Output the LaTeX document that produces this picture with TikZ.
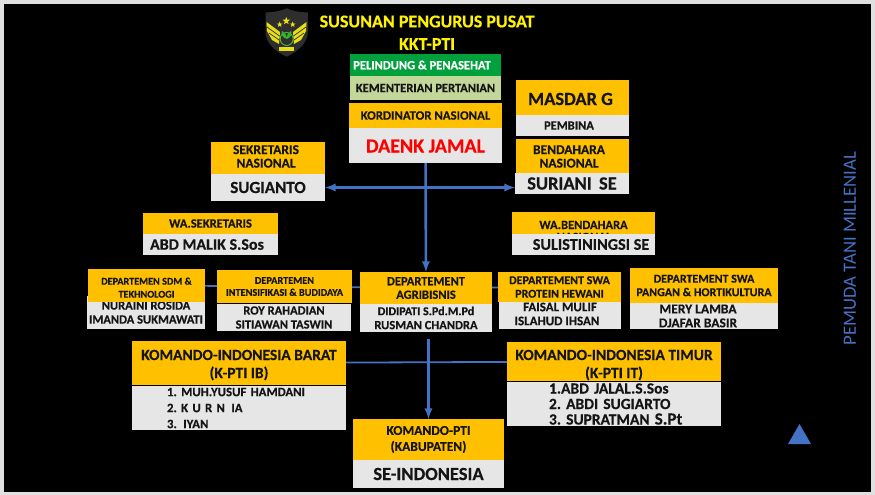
\documentclass[tikz,border=0pt]{standalone}
\usepackage{fontspec}
\setmainfont{Carlito}[BoldFeatures={FakeBold=0.4}]
\usetikzlibrary{arrows}
\usetikzlibrary{positioning}
\usetikzlibrary{shapes.geometric}
\definecolor{gold}{HTML}{FFC000}
\definecolor{pale}{HTML}{E6E6E6}
\definecolor{leaf}{HTML}{00A03C}
\definecolor{olive}{HTML}{C4D79B}
\definecolor{steel}{HTML}{4472C4}
\definecolor{ink}{HTML}{151515}
\tikzstyle{head}=[
   rectangle,
   fill=gold,
   text=ink,
   align=center,
   inner sep=0pt,
   outer sep=0pt
]
\tikzstyle{body}=[
   rectangle,
   fill=pale,
   text=ink,
   align=center,
   inner sep=0pt,
   outer sep=0pt
]
\tikzstyle{link}=[
   draw=steel,
   line width=2.6pt
]
\tikzstyle{thinlink}=[
   draw=steel,
   line width=1.6pt
]
\tikzstyle{logostar}=[
   star,
   star points=5,
   star point ratio=2.4,
   fill=yellow!90!black,
   inner sep=0pt,
   minimum size=6pt
]
\newcommand{\fsz}[2]{\fontsize{#1}{#2}\selectfont\bfseries\frenchspacing}
\newcommand{\low}[2]{\smash{\raisebox{-#1pt}{#2}}}

\begin{document}
\begin{tikzpicture}[
         x=1pt, y=-1pt,
         >=latex
      ]
      \useasboundingbox (0,0) rectangle (875,495);
      \fill[black!12] (0,0) rectangle (875,495);
      \fill[black] (3.5,4.5) rectangle (871,492);

      % logo
      \fill[black!82] (265.5,12.5) .. controls (275,12) and (281,11) .. (286.7,8.3)
         .. controls (292,11) and (298,12) .. (308,12.5)
         -- (307.7,35) .. controls (305,46) and (296,52) .. (286.7,56.7)
         .. controls (277,52) and (268,46) .. (265.7,35) -- cycle;
      \fill[yellow!90!black] (266.5,22) -- (280,32) -- (279,44) -- (272,40) -- (267,31) -- cycle;
      \fill[yellow!90!black] (306.5,22) -- (293,32) -- (294,44) -- (301,40) -- (306,31) -- cycle;
      \draw[black!82, line width=.7pt] (267,27) -- (279.5,36) (269,33) -- (279,40);
      \draw[black!82, line width=.7pt] (306,27) -- (293.5,36) (304,33) -- (294,40);
      \node (star1) [logostar] at (279.7,24.5) {};
      \node (star2) [logostar, minimum size=8pt] at (286.3,21) {};
      \node (star3) [logostar] at (292.7,24.5) {};
      \draw[leaf!70!yellow, line width=.9pt] (286.7,39) circle (6.5pt);
      \fill[leaf!80!yellow] (286.7,39) .. controls (281,37) and (281,33) .. (282,31)
         .. controls (285,32) and (286.7,35) .. (286.7,39)
         .. controls (286.7,35) and (288,32) .. (291,31)
         .. controls (292,33) and (292,37) .. (286.7,39) -- cycle;
      \fill[yellow!90!black] (279,47.5) rectangle (294,51);

      \node (title) [text=yellow, font=\fsz{18}{20}] at (427,21.5) {SUSUNAN PENGURUS PUSAT};
      \node (kkt) [text=yellow, font=\fsz{18}{20}] at (427,44) {KKT-PTI};

      \node (pelindung) [head, fill=leaf, text=white, font=\fsz{12.5}{14},
         minimum width=151pt, minimum height=22pt] at (425.5,65) {\hspace*{-7pt}PELINDUNG \& PENASEHAT};
      \node (kementerian) [body, fill=olive, font=\fsz{12.5}{14},
         minimum width=151pt, minimum height=24pt, below=0pt of pelindung] {KEMENTERIAN PERTANIAN};

      \node (kordinator) [head, font=\fsz{12.8}{14},
         minimum width=153pt, minimum height=25pt] at (425.5,115.5) {KORDINATOR NASIONAL};
      \node (daenk) [body, text=red, font=\fsz{20}{24},
         minimum width=153pt, minimum height=35pt, below=0pt of kordinator] {\low{7}{DAENK JAMAL}};

      \node (masdar) [head, font=\fsz{18.5}{20},
         minimum width=113pt, minimum height=35pt] at (572.5,97.5) {\hspace*{-4pt}\low{7.5}{MASDAR G}};
      \node (pembina) [body, font=\fsz{12.5}{13},
         minimum width=113pt, minimum height=21pt, below=0pt of masdar] {\hspace*{-7pt}PEMBINA};

      \node (bendahara) [head, font=\fsz{13.5}{13.5},
         minimum width=113pt, minimum height=34pt] at (572.5,156) {\hspace*{-7pt}\low{4.8}{BENDAHARA}\\\hspace*{-7pt}\low{4.8}{NASIONAL}};
      \node (suriani) [body, font=\fsz{18.5}{19},
         minimum width=114pt, minimum height=21pt, below=0pt of bendahara, xshift=-.5pt] {SURIANI\, SE};

      \node (sekretaris) [head, font=\fsz{13.5}{13.5},
         minimum width=114pt, minimum height=32pt] at (268,158) {\hspace*{-4pt}\low{2.8}{SEKRETARIS}\\\hspace*{-4pt}\low{2.8}{NASIONAL}};
      \node (sugianto) [body, font=\fsz{17}{19},
         minimum width=114pt, minimum height=27pt, below=0pt of sekretaris] {SUGIANTO};

      \node (wasek) [head, font=\fsz{12.5}{14},
         minimum width=135pt, minimum height=21pt] at (210.5,223.5) {WA.SEKRETARIS};
      \node (abdmalik) [body, font=\fsz{16}{17},
         minimum width=135pt, minimum height=21pt, below=0pt of wasek] {\hspace*{-7pt}ABD MALIK S.Sos};

      \node (waben) [head, font=\fsz{12.5}{13},
         minimum width=143pt, minimum height=22pt] at (583.5,223) {\low{6}{WA.BENDAHARA}};
      \node (wabenhidden) [text=ink, font=\fsz{12.5}{13}] at (584,237) {NASIONAL};
      \node (sulis) [body, font=\fsz{16.2}{17},
         minimum width=143pt, minimum height=21pt, below=0pt of waben] {\hspace*{15pt}SULISTININGSI SE};

      % departemen
      \node (nuraini) [body, font=\fsz{12.5}{14},
         minimum width=118pt, minimum height=33pt] at (146,312.5) {NURAINI ROSIDA\\IMANDA SUKMAWATI};
      \node (sdm) [head, font=\fsz{10.2}{13},
         minimum width=117pt, minimum height=33pt] at (146.5,285.5) {\low{5.6}{DEPARTEMEN SDM \&}\\\low{5.6}{TEKHNOLOGI}};

      \node (intensif) [head, font=\fsz{10.3}{12},
         minimum width=135pt, minimum height=33pt] at (284.5,286.5) {DEPARTEMEN\\INTENSIFIKASI \& BUDIDAYA};
      \node (roy) [body, font=\fsz{12.5}{14},
         minimum width=134pt, minimum height=27pt, below=1pt of intensif, xshift=-.5pt] {ROY RAHADIAN\\SITIAWAN TASWIN};

      \node (agri) [head, font=\fsz{12.5}{13.5},
         minimum width=132pt, minimum height=32pt] at (426,288) {DEPARTEMENT\\AGRIBISNIS};
      \node (didi) [body, font=\fsz{12.5}{14},
         minimum width=132pt, minimum height=28pt, below=0pt of agri] {{\fontsize{12}{14}\selectfont DIDIPATI S.Pd.M.Pd}\\RUSMAN CHANDRA};

      \node (protein) [head, font=\fsz{12}{13.5},
         minimum width=123pt, minimum height=30pt] at (559.5,287) {DEPARTEMENT SWA\\PROTEIN HEWANI};
      \node (faisal) [body, font=\fsz{13}{14},
         minimum width=122pt, minimum height=27pt, below=0pt of protein, xshift=.5pt] {\low{2.7}{FAISAL MULIF}\\\hspace*{-6pt}\low{2.7}{ISLAHUD IHSAN}};

      \node (pangan) [head, font=\fsz{12}{13.5},
         minimum width=148pt, minimum height=35pt] at (704,285.5) {DEPARTEMENT SWA\\PANGAN \& HORTIKULTURA};
      \node (mery) [body, font=\fsz{13.5}{14},
         minimum width=148pt, minimum height=26pt, below=0pt of pangan] {\hspace*{-12pt}MERY LAMBA\\\hspace*{-12pt}DJAFAR BASIR};

      % komando
      \node (barat) [head, font=\fsz{15.5}{18},
         minimum width=214pt, minimum height=44pt] at (239,363) {\low{6}{KOMANDO-INDONESIA BARAT}\\\low{6}{(K-PTI IB)}};
      \node (baratlist) [body, font=\fsz{12.8}{16}, align=left, text width=144pt,
         minimum width=214pt, minimum height=44pt, below=1pt of barat] {1. MUH.YUSUF HAMDANI\\2. K U R N\, IA\\3.\, IYAN};

      \node (timur) [head, font=\fsz{15.5}{18},
         minimum width=214pt, minimum height=39pt] at (614,361.5) {\low{7.5}{KOMANDO-INDONESIA TIMUR}\\\low{7.5}{(K-PTI IT)}};
      \node (timurlist) [body, font=\fsz{15.5}{15.5}, align=left, text width=150pt,
         minimum width=214pt, minimum height=44pt, below=1pt of timur] {\hspace*{10pt}1.ABD JALAL.S.Sos\\\hspace*{10pt}2. ABDI SUGIARTO\\\hspace*{10pt}3. SUPRATMAN {\fontsize{17}{15.5}\selectfont S.Pt}};

      \node (kabupaten) [head, font=\fsz{13.5}{16},
         minimum width=151pt, minimum height=41pt] at (428.5,439.5) {KOMANDO-PTI\\(KABUPATEN)};
      \node (seindo) [body, font=\fsz{18.5}{19},
         minimum width=151pt, minimum height=28pt, below=0pt of kabupaten] {SE-INDONESIA};

      \node (pemuda) [text=steel, font=\fontsize{18.7}{22}\selectfont, rotate=90] at (850,248.5) {PEMUDA TANI MILLENIAL};
      \fill[steel] (788,444) -- (799.5,424) -- (811,444) -- cycle;

      \coordinate (k0) at (428.5,339);

      \path[->]
      (daenk) edge[link] (agri)
      (k0) edge[link] (kabupaten)
      ;
      \draw[link, <->] (sugianto.east) -- (suriani.west |- sugianto.east);

      \draw[thinlink] (sdm) -- (intensif);
      \draw[thinlink] (intensif) -- (agri);
      \draw[thinlink] (agri) -- (protein);
      \draw[link, line width=1.8pt] (barat) -- (timur);
   \end{tikzpicture}
\end{document}
